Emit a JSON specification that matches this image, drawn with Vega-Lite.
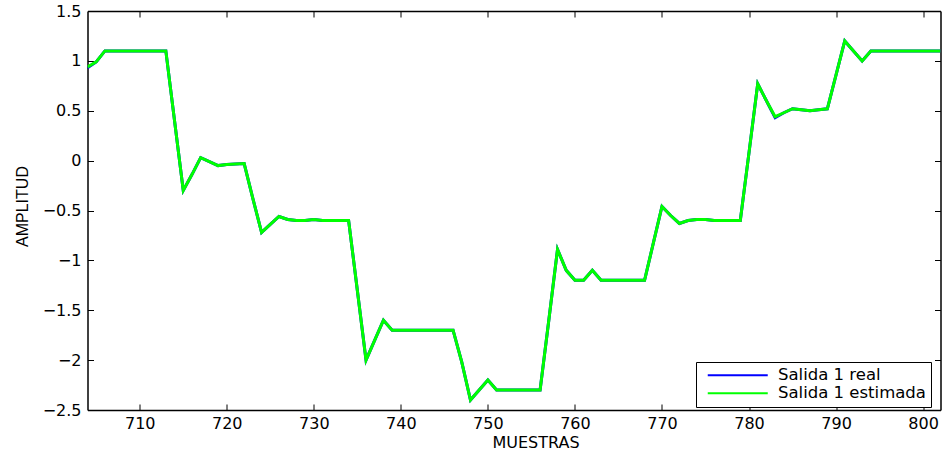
{
  "$schema": "https://vega.github.io/schema/vega-lite/v6.json",
  "width": 853,
  "height": 399,
  "autosize": {"type": "none"},
  "padding": {"left": 87.5, "top": 11, "right": 2.5, "bottom": 41},
  "background": "white",
  "config": {
    "view": {"stroke": null},
    "font": "DejaVu Sans",
    "axis": {
      "grid": false,
      "domainColor": "black",
      "domainWidth": 1.5,
      "tickColor": "black",
      "tickWidth": 1,
      "tickSize": -6,
      "labelColor": "black",
      "labelFont": "DejaVu Sans",
      "labelFontSize": 16,
      "labelFlush": false,
      "labelOverlap": false,
      "titleColor": "black",
      "titleFontWeight": "normal"
    }
  },
  "data": {
    "values": [
      {"muestra": 704, "real": 0.93, "estimada": 0.94},
      {"muestra": 705, "real": 0.99, "estimada": 0.99},
      {"muestra": 706, "real": 1.1, "estimada": 1.1},
      {"muestra": 707, "real": 1.1, "estimada": 1.1},
      {"muestra": 708, "real": 1.1, "estimada": 1.1},
      {"muestra": 709, "real": 1.1, "estimada": 1.1},
      {"muestra": 710, "real": 1.1, "estimada": 1.1},
      {"muestra": 711, "real": 1.1, "estimada": 1.1},
      {"muestra": 712, "real": 1.1, "estimada": 1.1},
      {"muestra": 713, "real": 1.1, "estimada": 1.1},
      {"muestra": 714, "real": 0.4, "estimada": 0.4},
      {"muestra": 715, "real": -0.3, "estimada": -0.3},
      {"muestra": 716, "real": -0.14, "estimada": -0.14},
      {"muestra": 717, "real": 0.03, "estimada": 0.03},
      {"muestra": 718, "real": -0.01, "estimada": -0.01},
      {"muestra": 719, "real": -0.05, "estimada": -0.05},
      {"muestra": 720, "real": -0.04, "estimada": -0.04},
      {"muestra": 721, "real": -0.035, "estimada": -0.035},
      {"muestra": 722, "real": -0.03, "estimada": -0.03},
      {"muestra": 723, "real": -0.38, "estimada": -0.38},
      {"muestra": 724, "real": -0.72, "estimada": -0.72},
      {"muestra": 725, "real": -0.64, "estimada": -0.64},
      {"muestra": 726, "real": -0.56, "estimada": -0.56},
      {"muestra": 727, "real": -0.59, "estimada": -0.59},
      {"muestra": 728, "real": -0.6, "estimada": -0.6},
      {"muestra": 729, "real": -0.6, "estimada": -0.6},
      {"muestra": 730, "real": -0.59, "estimada": -0.59},
      {"muestra": 731, "real": -0.6, "estimada": -0.6},
      {"muestra": 732, "real": -0.6, "estimada": -0.6},
      {"muestra": 733, "real": -0.6, "estimada": -0.6},
      {"muestra": 734, "real": -0.6, "estimada": -0.6},
      {"muestra": 735, "real": -1.3, "estimada": -1.3},
      {"muestra": 736, "real": -2.0, "estimada": -2.0},
      {"muestra": 737, "real": -1.8, "estimada": -1.8},
      {"muestra": 738, "real": -1.6, "estimada": -1.6},
      {"muestra": 739, "real": -1.7, "estimada": -1.7},
      {"muestra": 740, "real": -1.7, "estimada": -1.7},
      {"muestra": 741, "real": -1.7, "estimada": -1.7},
      {"muestra": 742, "real": -1.7, "estimada": -1.7},
      {"muestra": 743, "real": -1.7, "estimada": -1.7},
      {"muestra": 744, "real": -1.7, "estimada": -1.7},
      {"muestra": 745, "real": -1.7, "estimada": -1.7},
      {"muestra": 746, "real": -1.7, "estimada": -1.7},
      {"muestra": 747, "real": -2.02, "estimada": -2.02},
      {"muestra": 748, "real": -2.4, "estimada": -2.4},
      {"muestra": 749, "real": -2.3, "estimada": -2.3},
      {"muestra": 750, "real": -2.2, "estimada": -2.2},
      {"muestra": 751, "real": -2.3, "estimada": -2.3},
      {"muestra": 752, "real": -2.3, "estimada": -2.3},
      {"muestra": 753, "real": -2.3, "estimada": -2.3},
      {"muestra": 754, "real": -2.3, "estimada": -2.3},
      {"muestra": 755, "real": -2.3, "estimada": -2.3},
      {"muestra": 756, "real": -2.3, "estimada": -2.3},
      {"muestra": 757, "real": -1.6, "estimada": -1.6},
      {"muestra": 758, "real": -0.89, "estimada": -0.89},
      {"muestra": 759, "real": -1.1, "estimada": -1.1},
      {"muestra": 760, "real": -1.2, "estimada": -1.2},
      {"muestra": 761, "real": -1.2, "estimada": -1.2},
      {"muestra": 762, "real": -1.1, "estimada": -1.1},
      {"muestra": 763, "real": -1.2, "estimada": -1.2},
      {"muestra": 764, "real": -1.2, "estimada": -1.2},
      {"muestra": 765, "real": -1.2, "estimada": -1.2},
      {"muestra": 766, "real": -1.2, "estimada": -1.2},
      {"muestra": 767, "real": -1.2, "estimada": -1.2},
      {"muestra": 768, "real": -1.2, "estimada": -1.2},
      {"muestra": 769, "real": -0.83, "estimada": -0.83},
      {"muestra": 770, "real": -0.46, "estimada": -0.46},
      {"muestra": 771, "real": -0.55, "estimada": -0.55},
      {"muestra": 772, "real": -0.63, "estimada": -0.63},
      {"muestra": 773, "real": -0.6, "estimada": -0.6},
      {"muestra": 774, "real": -0.59, "estimada": -0.59},
      {"muestra": 775, "real": -0.59, "estimada": -0.59},
      {"muestra": 776, "real": -0.6, "estimada": -0.6},
      {"muestra": 777, "real": -0.6, "estimada": -0.6},
      {"muestra": 778, "real": -0.6, "estimada": -0.6},
      {"muestra": 779, "real": -0.6, "estimada": -0.6},
      {"muestra": 780, "real": 0.08, "estimada": 0.08},
      {"muestra": 781, "real": 0.77, "estimada": 0.77},
      {"muestra": 782, "real": 0.6, "estimada": 0.6},
      {"muestra": 783, "real": 0.43, "estimada": 0.44},
      {"muestra": 784, "real": 0.48, "estimada": 0.48},
      {"muestra": 785, "real": 0.52, "estimada": 0.52},
      {"muestra": 786, "real": 0.51, "estimada": 0.51},
      {"muestra": 787, "real": 0.5, "estimada": 0.5},
      {"muestra": 788, "real": 0.51, "estimada": 0.51},
      {"muestra": 789, "real": 0.52, "estimada": 0.52},
      {"muestra": 790, "real": 0.86, "estimada": 0.86},
      {"muestra": 791, "real": 1.2, "estimada": 1.2},
      {"muestra": 792, "real": 1.1, "estimada": 1.1},
      {"muestra": 793, "real": 1.0, "estimada": 1.0},
      {"muestra": 794, "real": 1.1, "estimada": 1.1},
      {"muestra": 795, "real": 1.1, "estimada": 1.1},
      {"muestra": 796, "real": 1.1, "estimada": 1.1},
      {"muestra": 797, "real": 1.1, "estimada": 1.1},
      {"muestra": 798, "real": 1.1, "estimada": 1.1},
      {"muestra": 799, "real": 1.1, "estimada": 1.1},
      {"muestra": 800, "real": 1.1, "estimada": 1.1},
      {"muestra": 801, "real": 1.1, "estimada": 1.1},
      {"muestra": 802, "real": 1.1, "estimada": 1.1}
    ]
  },
  "layer": [
    {
      "mark": {"type": "line", "strokeWidth": 3, "clip": true},
      "encoding": {
        "x": {
          "field": "muestra",
          "type": "quantitative",
          "scale": {"domain": [704, 802], "nice": false, "zero": false},
          "axis": {
            "orient": "bottom",
            "values": [710, 720, 730, 740, 750, 760, 770, 780, 790, 800],
            "labelPadding": 11.5,
            "title": "MUESTRAS",
            "titleFont": "DejaVu Sans",
            "titleFontSize": 16,
            "titleAlign": "center",
            "titleBaseline": "alphabetic",
            "titleX": 448,
            "titleY": 37.5
          }
        },
        "y": {
          "field": "real",
          "type": "quantitative",
          "scale": {"domain": [-2.5, 1.5], "nice": false, "zero": false},
          "axis": {
            "orient": "left",
            "values": [-2.5, -2, -1.5, -1, -0.5, 0, 0.5, 1, 1.5],
            "format": "~g",
            "labelPadding": 12.5,
            "title": "AMPLITUD",
            "titleFont": "Liberation Sans",
            "titleFontSize": 16,
            "titleAngle": -90,
            "titleAlign": "center",
            "titleBaseline": "alphabetic",
            "titleX": -60.5,
            "titleY": 195
          }
        },
        "color": {
          "datum": "Salida 1 real",
          "type": "nominal",
          "scale": {
            "domain": ["Salida 1 real", "Salida 1 estimada"],
            "range": ["#0000ff", "#00ff00"]
          },
          "legend": {
            "orient": "none",
            "legendX": 608.5,
            "legendY": 351,
            "title": null,
            "direction": "vertical",
            "symbolType": "M-6,0H6",
            "symbolSize": 100,
            "symbolStrokeWidth": 2,
            "symbolOffset": 28.5,
            "labelOffset": 32,
            "labelFont": "DejaVu Sans",
            "labelFontSize": 16.5,
            "labelColor": "black",
            "rowPadding": 1,
            "padding": 5,
            "strokeColor": "black",
            "fillColor": "white"
          }
        }
      }
    },
    {
      "mark": {"type": "line", "strokeWidth": 3, "clip": true},
      "encoding": {
        "x": {
          "field": "muestra",
          "type": "quantitative",
          "axis": {
            "orient": "top",
            "values": [710, 720, 730, 740, 750, 760, 770, 780, 790, 800],
            "labels": false,
            "title": null
          }
        },
        "y": {
          "field": "estimada",
          "type": "quantitative",
          "axis": {
            "orient": "right",
            "values": [-2.5, -2, -1.5, -1, -0.5, 0, 0.5, 1, 1.5],
            "labels": false,
            "title": null
          }
        },
        "color": {"datum": "Salida 1 estimada", "type": "nominal"}
      }
    }
  ],
  "resolve": {"axis": {"x": "independent", "y": "independent"}}
}
